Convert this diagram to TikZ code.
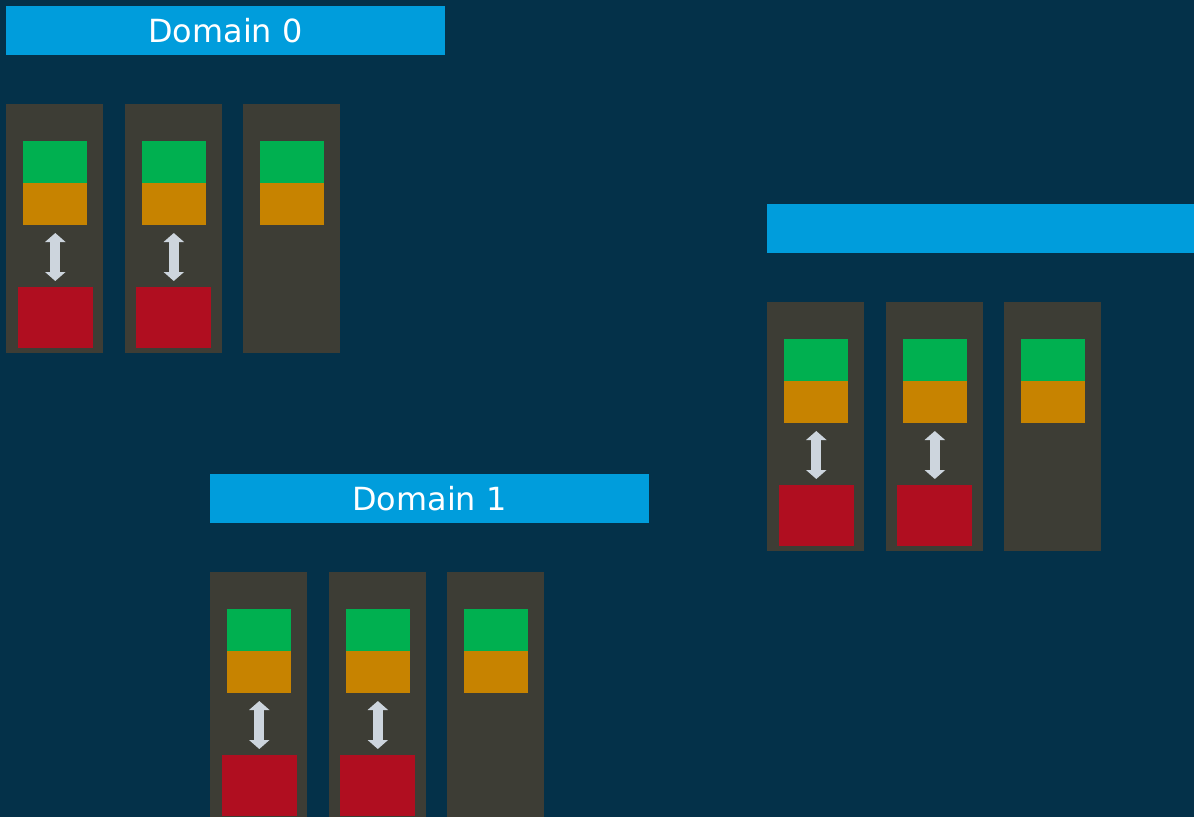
\documentclass[tikz,border=0pt]{standalone}
\usepackage{fontspec}
\setmainfont{DejaVu Sans}
\usetikzlibrary{positioning,arrows.meta}

\definecolor{bgnavy}{RGB}{4,49,73}
\definecolor{bannerblue}{RGB}{0,157,220}
\definecolor{rackgrey}{RGB}{61,61,53}
\definecolor{cpugreen}{RGB}{0,176,80}
\definecolor{cacheorange}{RGB}{199,131,0}
\definecolor{memred}{RGB}{176,14,32}
\definecolor{linkgrey}{RGB}{205,213,221}

\begin{document}
\begin{tikzpicture}[x=1bp,y=-1bp,
    box/.style={rectangle, inner sep=0pt, outer sep=0pt, draw=none},
    banner/.style={box, fill=bannerblue, minimum width=439bp, minimum height=49bp, anchor=north west,
        text=white, font=\fontsize{32}{38}\selectfont},
    rack/.style={box, fill=rackgrey, minimum width=97bp, minimum height=249bp, anchor=north west},
    cpu/.style={box, fill=cpugreen, minimum width=64bp, minimum height=42bp},
    cache/.style={box, fill=cacheorange, minimum width=64bp, minimum height=42bp},
    mem/.style={box, fill=memred, minimum width=75bp, minimum height=61bp},
    link/.style={draw=linkgrey, line width=10bp, {Triangle[width=20bp,length=9bp]}-{Triangle[width=20bp,length=9bp]},
        shorten <=8bp, shorten >=6bp}]
    \path[use as bounding box, fill=bgnavy] (0,0) rectangle (1194,817);
    \clip (0,0) rectangle (1194,817);

    % three domains, each a banner over three racks
    \foreach \d/\bx/\by/\lbl in {0/6/6/{Domain 0}, 1/210/474/{Domain 1}, 2/767/204/{}} {
        \node[banner] (dom\d) at (\bx,\by) {\lbl};
        \foreach \r in {0,1,2} {
            \node[rack] (rack\d\r) at (\bx+\r*118.5+0.3,\by+98) {};
            \node[cpu, below right=37bp and 17bp of rack\d\r.north west, anchor=north west] (cpu\d\r) {};
            \node[cache, below=0pt of cpu\d\r] (cache\d\r) {};
            % the first two racks also hold a memory block
            \ifnum\r<2
                \node[mem, below=62bp of cache\d\r] (mem\d\r) {};
                \draw[link] (cache\d\r) -- (mem\d\r);
            \fi
        }
    }
\end{tikzpicture}
\end{document}
